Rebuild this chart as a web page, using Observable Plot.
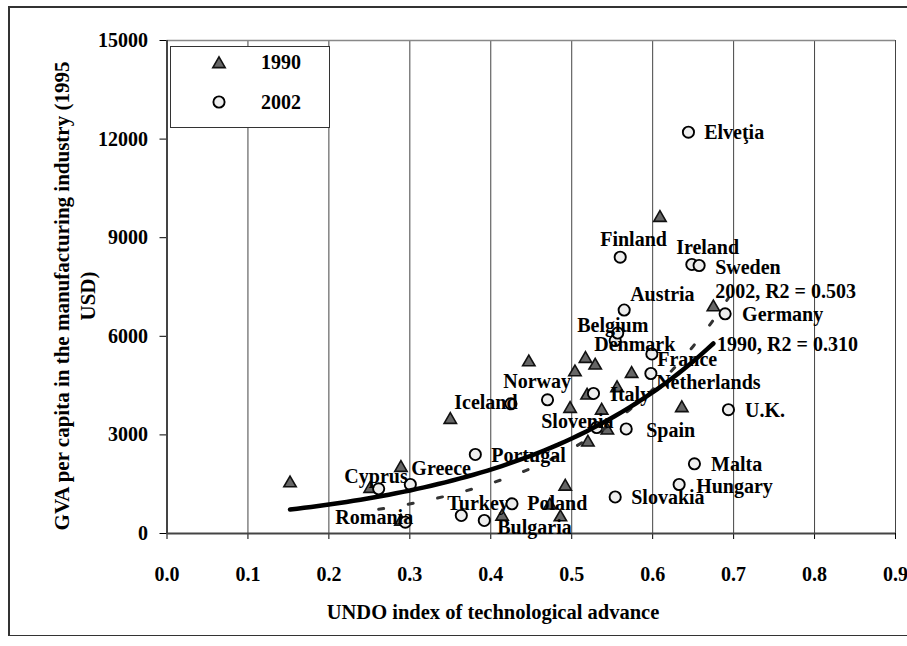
<!DOCTYPE html>
<html>
<head>
<meta charset="utf-8">
<script src="https://cdn.jsdelivr.net/npm/d3@7"></script>
<script src="https://cdn.jsdelivr.net/npm/@observablehq/plot@0.6"></script>
<style>
  body { margin: 0; background: #fff; }
  #wrap { position: relative; width: 907px; height: 646px; overflow: hidden; background: #fff;
          font-family: "Liberation Serif", "Times New Roman", serif; font-weight: bold; color: #000; }
  .edge { position: absolute; background: #333; }
  #chart { position: absolute; left: 0; top: 0; }
  #legend { position: absolute; left: 170px; top: 46px; width: 160px; height: 82px; background: #fff;
            border: 1.5px solid #333; box-sizing: border-box; }
  #legend svg { position: absolute; left: -1.5px; top: -1.5px; }
</style>
</head>
<body>
<div id="wrap">
  <div class="edge" style="left:8px;top:6px;width:899px;height:1.5px"></div>
  <div class="edge" style="left:8px;top:6px;width:1.5px;height:630px"></div>
  <div class="edge" style="left:8px;top:634.5px;width:899px;height:1.5px"></div>
  <div id="chart"></div>
  <div id="legend"></div>
</div>
<script>
// ---- data ----
// 1990 (triangles): UNDO index and GVA per capita
const x1990 = [0.152, 0.251, 0.289, 0.289, 0.350, 0.414, 0.447, 0.473, 0.486, 0.492, 0.498, 0.504,
               0.517, 0.519, 0.529, 0.520, 0.537, 0.544, 0.556, 0.574, 0.609, 0.636, 0.675];
const y1990 = [1530, 1360, 2000, 365, 3460, 517, 5212, 852, 496, 1430, 3794, 4908,
               5315, 4199, 5112, 2769, 3742, 3134, 4427, 4859, 9606, 3818, 6885];

// 2002 (circles)
const names2002 = ["Cyprus", "Romania", "Greece", "Turkey", "Portugal", "Bulgaria", "Iceland", "Poland",
                   "Norway", "Italy", "Slovenia", "Slovakia", "Denmark", "Belgium", "Finland", "Austria",
                   "Spain", "Netherlands", "France", "Hungary", "Elveţia", "Ireland", "Malta", "Sweden",
                   "Germany", "U.K."];
const x2002 = [0.2615, 0.2944, 0.3006, 0.3636, 0.3809, 0.3920, 0.4249, 0.4262,
               0.4701, 0.5269, 0.5309, 0.5537, 0.5537, 0.5568, 0.5599, 0.5648,
               0.5673, 0.5978, 0.5990, 0.6327, 0.6442, 0.6484, 0.6516, 0.6574,
               0.6895, 0.6936];
const y2002 = [1360, 344, 1491, 548, 2404, 396, 3946, 904,
               4068, 4260, 3225, 1111, 5872, 6100, 8407, 6800,
               3180, 4868, 5462, 1491, 12210, 8185, 2121, 8154,
               6685, 3767];

// country label anchors (left edge, vertical middle) in data units
const labelNames = ["Elveţia", "Finland", "Ireland", "Sweden", "Austria", "Germany", "Belgium", "Denmark",
                    "France", "Netherlands", "Norway", "Italy", "Iceland", "U.K.", "Slovenia", "Spain",
                    "Portugal", "Malta", "Greece", "Cyprus", "Hungary", "Slovakia", "Turkey", "Poland",
                    "Romania", "Bulgaria"];
const labelX = [0.6636, 0.5352, 0.6290, 0.6772, 0.5722, 0.7105, 0.5068, 0.5278,
                0.6056, 0.6043, 0.4154, 0.5475, 0.3549, 0.7142, 0.4623, 0.5920,
                0.4006, 0.6722, 0.3019, 0.2191, 0.6537, 0.5735, 0.3463, 0.4451,
                0.2080, 0.4080];
const labelY = [12201, 8945, 8702, 8093, 7272, 6663, 6329, 5751,
                5294, 4594, 4625, 4229, 3986, 3742, 3408, 3134,
                2373, 2099, 1978, 1734, 1430, 1095, 913, 913,
                487, 183];

// trendline labels
const trendText = ["2002, R2 = 0.503", "1990, R2 = 0.310"];
const trendLabelX = [0.6772, 0.6796];
const trendLabelY = [7363, 5751];

// axes
const xTicks = [0, 0.1, 0.2, 0.3, 0.4, 0.5, 0.6, 0.7, 0.8, 0.9];
const yTicks = [0, 3000, 6000, 9000, 12000, 15000];
const seriesNames = ["1990", "2002"];
const xTitle = "UNDO index of technological advance";
const yTitleLines = ["GVA per capita in the manufacturing industry (1995", "USD)"];

// ---- build tables ----
const pts1990 = x1990.map((x, i) => ({x, y: y1990[i]}));
const pts2002 = x2002.map((x, i) => ({x, y: y2002[i], name: names2002[i]}));
const labels = labelNames.map((t, i) => ({text: t, x: labelX[i], y: labelY[i]}));
const trendLabels = trendText.map((t, i) => ({text: t, x: trendLabelX[i], y: trendLabelY[i]}));

// exponential (Excel-style) trendline fitted to the data: y = a·e^(b·x)
function expTrend(pts) {
  const mx = d3.mean(pts, p => p.x), ml = d3.mean(pts, p => Math.log(p.y));
  let sxy = 0, sxx = 0;
  for (const p of pts) { sxy += (p.x - mx) * (Math.log(p.y) - ml); sxx += (p.x - mx) ** 2; }
  const b = sxy / sxx, a = Math.exp(ml - b * mx);
  const [x0, x1] = d3.extent(pts, p => p.x);
  return d3.range(0, 61).map(i => { const x = x0 + (x1 - x0) * i / 60; return {x, y: a * Math.exp(b * x)}; });
}
const trend1990 = expTrend(pts1990);
const trend2002 = expTrend(pts2002);

const FONT = "'Liberation Serif', 'Times New Roman', serif";
const chart = Plot.plot({
  width: 907,
  height: 646,
  marginLeft: 166.5,
  marginRight: 12,
  marginTop: 40,
  marginBottom: 113,
  style: {fontFamily: FONT, fontWeight: "bold", fontSize: "20px", color: "#000", background: "transparent"},
  x: {domain: [0, 0.9], ticks: xTicks, tickFormat: d3.format(".1f"), tickSize: 6, tickPadding: 27, label: null},
  y: {domain: [0, 15000], ticks: yTicks, tickFormat: d => String(d), tickSize: 7, tickPadding: 12, label: null},
  marks: [
    Plot.ruleX(xTicks.slice(1), {stroke: "#444", strokeWidth: 1}),
    Plot.ruleY([15000], {stroke: "#888", strokeWidth: 1.5}),
    Plot.ruleY([0], {stroke: "#444", strokeWidth: 2}),
    Plot.ruleX([0], {stroke: "#444", strokeWidth: 2}),
    Plot.dot(pts1990, {x: "x", y: "y", symbol: "triangle", r: 4.6, fill: "#666", stroke: "#111", strokeWidth: 1.6}),
    Plot.dot(pts2002, {x: "x", y: "y", symbol: "circle", r: 5.6, fill: "#eee", stroke: "#000", strokeWidth: 1.9}),
    Plot.line(trend2002, {x: "x", y: "y", stroke: "#333", strokeWidth: 3, strokeDasharray: "5,25"}),
    Plot.line(trend1990, {x: "x", y: "y", stroke: "#000", strokeWidth: 4.5, strokeLinecap: "round"}),
    Plot.text(labels, {x: "x", y: "y", text: "text", textAnchor: "start", fill: "#000"}),
    Plot.text(trendLabels, {x: "x", y: "y", text: "text", textAnchor: "start", fill: "#000"})
  ]
});
document.getElementById("chart").appendChild(chart);

// axis titles placed in the chart's SVG
const svg = d3.select(chart);
const titles = svg.append("g").attr("font-family", FONT).attr("font-weight", "bold").attr("fill", "#000");
titles.append("text").attr("font-size", 20.5).attr("x", 493).attr("y", 612).attr("text-anchor", "middle").attr("dominant-baseline", "central").text(xTitle);
yTitleLines.forEach((t, i) => {
  titles.append("text").attr("font-size", 21).attr("transform", `translate(${62 + 26 * i},296) rotate(-90)`)
    .attr("text-anchor", "middle").attr("dominant-baseline", "central").text(t);
});

// legend (HTML box with the same symbols)
const lg = d3.select("#legend").append("svg").attr("width", 160).attr("height", 82)
  .style("font-family", FONT).style("font-weight", "bold").style("font-size", "20px");
const triPath = d3.symbol(d3.symbolTriangle, Math.PI * 4.6 * 4.6)();
const cirPath = d3.symbol(d3.symbolCircle, Math.PI * 5.6 * 5.6)();
lg.append("path").attr("d", triPath).attr("transform", "translate(49,18)").attr("fill", "#666").attr("stroke", "#111").attr("stroke-width", 1.6);
lg.append("path").attr("d", cirPath).attr("transform", "translate(49,56)").attr("fill", "#eee").attr("stroke", "#000").attr("stroke-width", 1.9);
lg.append("text").attr("x", 111).attr("y", 16).attr("text-anchor", "middle").attr("dominant-baseline", "central").text(seriesNames[0]);
lg.append("text").attr("x", 111).attr("y", 56).attr("text-anchor", "middle").attr("dominant-baseline", "central").text(seriesNames[1]);
</script>
</body>
</html>
